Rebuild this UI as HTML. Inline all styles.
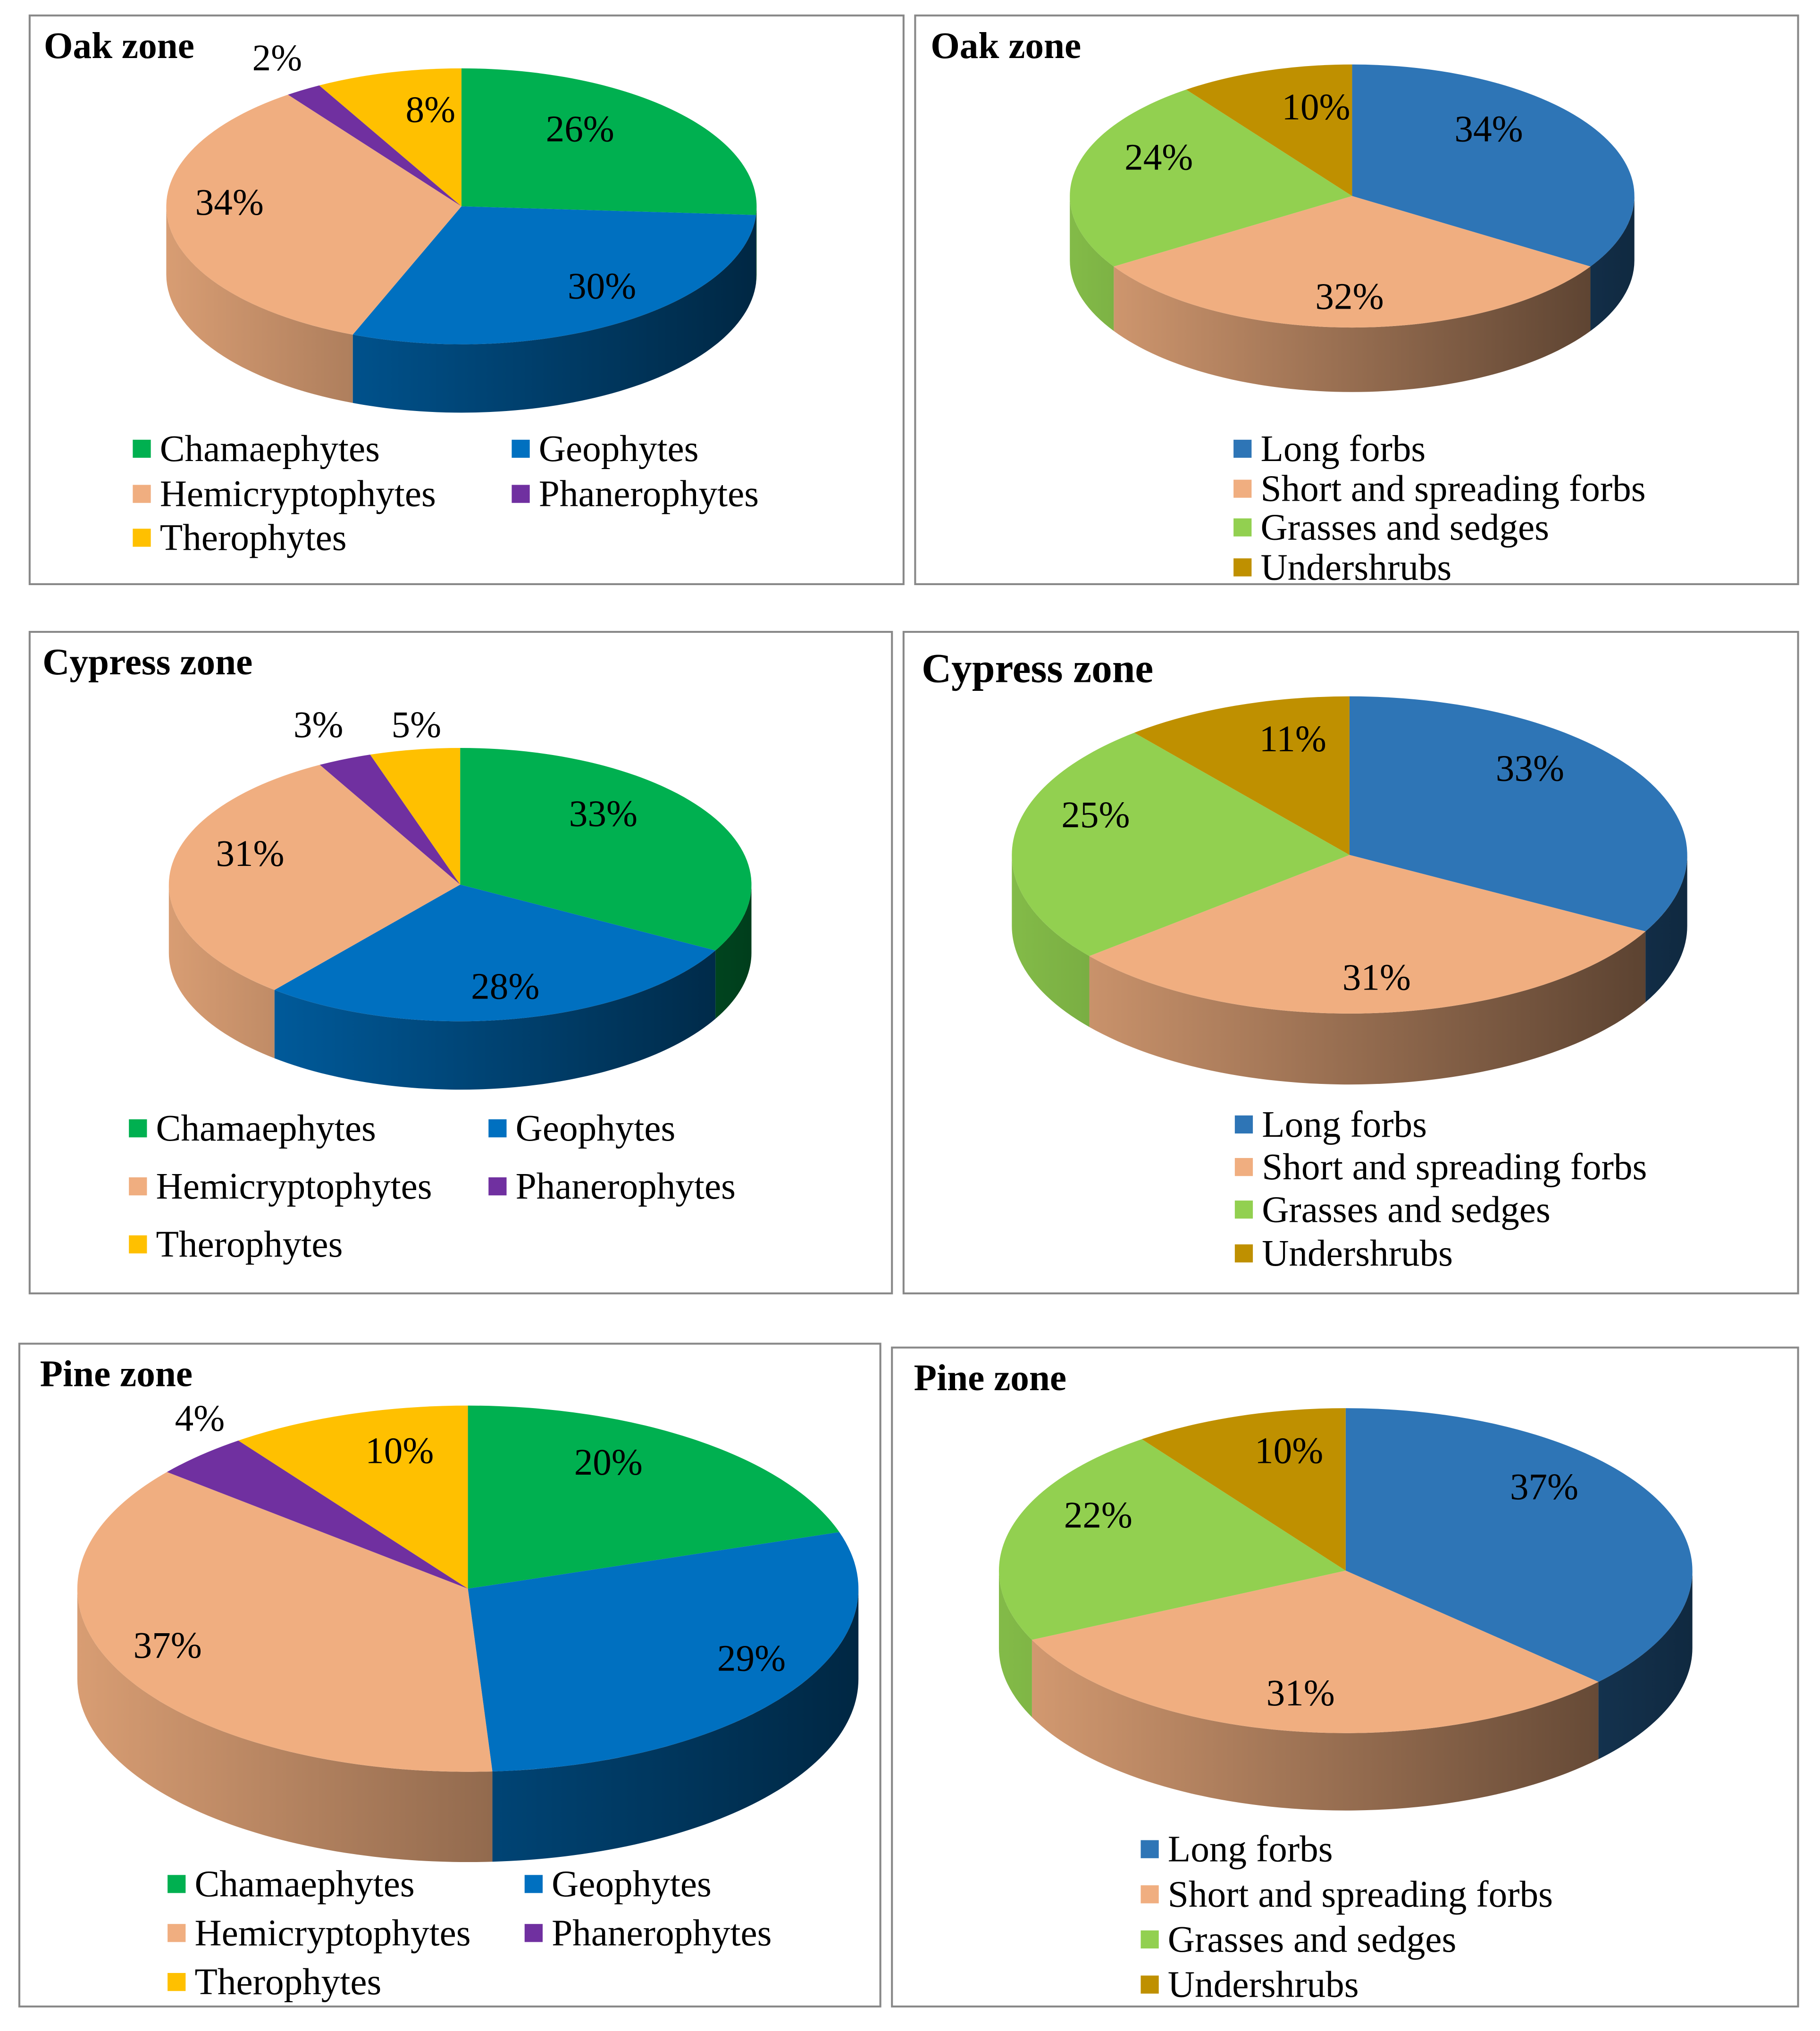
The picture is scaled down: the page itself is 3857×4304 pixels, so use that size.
<!DOCTYPE html>
<html><head><meta charset="utf-8"><style>
html,body{margin:0;padding:0;background:#fff}
svg{display:block}
text{font-family:"Liberation Serif",serif;fill:#000}
</style></head><body>
<svg id="root" width="3857" height="4304" viewBox="0 0 1412 1575" preserveAspectRatio="none" xmlns="http://www.w3.org/2000/svg"><defs id="defs"></defs></svg>
<script>
// Data
const lifeCats = ["Chamaephytes","Geophytes","Hemicryptophytes","Phanerophytes","Therophytes"];
const lifeColors = ["#00B050","#0070C0","#F0AE80","#7030A0","#FFC000"];
const oakLife = [26,30,34,2,8];
const cypressLife = [33,28,31,3,5];
const pineLife = [20,29,37,4,10];
const formCats = ["Long forbs","Short and spreading forbs","Grasses and sedges","Undershrubs"];
const formColors = ["#2E75B6","#F0AE80","#92D050","#BF9000"];
const oakForm = [34,32,24,10];
const cypressForm = [33,31,25,11];
const pineForm = [37,31,22,10];

const NS="http://www.w3.org/2000/svg";
const root=document.getElementById('root');
const defs=document.getElementById('defs');
function mk(tag,attrs,parent){const e=document.createElementNS(NS,tag);for(const k in attrs)e.setAttribute(k,attrs[k]);(parent||root).appendChild(e);return e;}
function shade(hex,f){const n=parseInt(hex.slice(1),16);const r=Math.round(((n>>16)&255)*f),g=Math.round(((n>>8)&255)*f),b=Math.round((n&255)*f);return `rgb(${r},${g},${b})`;}
let gid=0;

function panel(p){
  const g=mk('g',{});
  
  
  const box=mk('rect',{x:p.box[0],y:p.box[1],width:p.box[2]-p.box[0],height:p.box[3]-p.box[1],fill:'#fff',stroke:'#888','stroke-width':1.5},g);
  
  
  const t=mk('text',{x:p.title[0],y:p.title[1],'font-size':p.titleSize||29,'font-weight':'bold'},g);
  t.textContent=p.titleText;
  
  
  const {cx,cy,rx,ry,d}=p.pie;
  const total=p.values.reduce((a,b)=>a+b,0);
  const pt=(a,dy)=>[cx+rx*Math.sin(a),cy-ry*Math.cos(a)+(dy||0)];
  let acc=0;const angles=[];
  p.values.forEach(v=>{const a0=acc/total*2*Math.PI;acc+=v;angles.push([a0,acc/total*2*Math.PI]);});
  angles.forEach(([a0,a1],i)=>{
    const s=Math.max(a0,Math.PI/2),e=Math.min(a1,3*Math.PI/2);
    if(e<=s)return;
    const id='gr'+(gid++);
    const lg=mk('linearGradient',{id:id,gradientUnits:'userSpaceOnUse',x1:cx-rx,x2:cx+rx,y1:0,y2:0},defs);
    mk('stop',{offset:0,'stop-color':shade(p.colors[i],0.9)},lg);
    mk('stop',{offset:1,'stop-color':shade(p.colors[i],0.35)},lg);
    const A=pt(s),B=pt(e),Bd=pt(e,d),Ad=pt(s,d);
    const w=mk('path',{d:`M${A}A${rx},${ry} 0 0 1 ${B}L${Bd}A${rx},${ry} 0 0 0 ${Ad}Z`,fill:`url(#${id})`},g);
    
    
  });
  angles.forEach(([a0,a1],i)=>{
    const A=pt(a0),B=pt(a1),large=(a1-a0)>Math.PI?1:0;
    const s=mk('path',{d:`M${cx},${cy}L${A}A${rx},${ry} 0 ${large} 1 ${B}Z`,fill:p.colors[i]},g);
    
    
  });
  p.labels.forEach((L,i)=>{
    const t=mk('text',{x:L[0],y:L[1],'font-size':29,'text-anchor':'middle','dominant-baseline':'central'},g);
    t.textContent=p.values[i]+'%';
    
    
  });
  p.legend.forEach((L,i)=>{
    const r=mk('rect',{x:L[0],y:L[1]-7,width:14,height:14,fill:p.colors[i]},g);
    
    
    const t=mk('text',{x:L[0]+21,y:L[1],'font-size':29,'dominant-baseline':'central'},g);
    t.textContent=p.cats[i];
    
    
  });
}

panel({name:'oak-life-form-chart',box:[23,12,701,453],title:[34,45],titleText:'Oak zone',
  pie:{cx:358,cy:160,rx:229,ry:107,d:53},values:oakLife,colors:lifeColors,cats:lifeCats,
  labels:[[450,100],[467,222],[178,157],[215,45],[334,85]],
  legend:[[103,348],[397,348],[103,383],[397,383],[103,417]]});
panel({name:'oak-growth-form-chart',box:[710,12,1395,453],title:[722,45],titleText:'Oak zone',
  pie:{cx:1049,cy:152,rx:219,ry:102,d:50},values:oakForm,colors:formColors,cats:formCats,
  labels:[[1155,100],[1047,230],[899,122],[1021,83]],
  legend:[[957,348],[957,379],[957,409],[957,440]]});
panel({name:'cypress-life-form-chart',box:[23,490,692,1003],title:[33,523],titleText:'Cypress zone',
  pie:{cx:357,cy:686,rx:226,ry:106,d:53},values:cypressLife,colors:lifeColors,cats:lifeCats,
  labels:[[468,631],[392,765],[194,662],[247,562],[323,562]],
  legend:[[100,875],[379,875],[100,920],[379,920],[100,965]]});
panel({name:'cypress-growth-form-chart',box:[701,490,1395,1003],title:[715,529],titleSize:32,titleText:'Cypress zone',
  pie:{cx:1047,cy:663,rx:262,ry:123,d:55},values:cypressForm,colors:formColors,cats:formCats,
  labels:[[1187,596],[1068,758],[850,632],[1003,573]],
  legend:[[958,872],[958,905],[958,938],[958,972]]});
panel({name:'pine-life-form-chart',box:[15,1042,683,1556],title:[31,1075],titleText:'Pine zone',
  pie:{cx:363,cy:1232,rx:303,ry:142,d:70},values:pineLife,colors:lifeColors,cats:lifeCats,
  labels:[[472,1134],[583,1286],[130,1276],[155,1100],[310,1125]],
  legend:[[130,1461],[407,1461],[130,1499],[407,1499],[130,1537]]});
panel({name:'pine-growth-form-chart',box:[692,1045,1395,1556],title:[709,1078],titleText:'Pine zone',
  pie:{cx:1044,cy:1218,rx:269,ry:126,d:60},values:pineForm,colors:formColors,cats:formCats,
  labels:[[1198,1153],[1009,1313],[852,1175],[1000,1125]],
  legend:[[885,1434],[885,1469],[885,1504],[885,1539]]});
</script>
</body></html>
